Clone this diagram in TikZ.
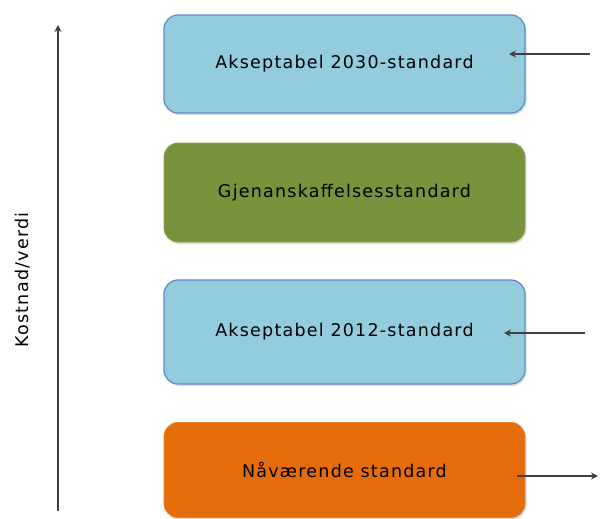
\documentclass[tikz,border=0pt]{standalone}
\usepackage{fontspec}
\setmainfont{DejaVu Sans}[LetterSpace=7]
\usetikzlibrary{shadows,arrows.meta}
\definecolor{lblue}{HTML}{93CDDD}
\definecolor{bblue}{HTML}{5B8BC9}
\definecolor{lgreen}{HTML}{77933C}
\definecolor{orng}{HTML}{E46C0A}
\definecolor{arr}{HTML}{404040}
\tikzset{
  box/.style={rounded corners=14pt, minimum width=361pt, anchor=center,
    inner sep=0pt, font=\fontsize{17.5}{20}\selectfont, text=black,
    drop shadow={opacity=0.25, shadow xshift=1.5pt, shadow yshift=-2pt}},
  conn/.style={draw=arr, line width=1.4pt, -{Stealth[length=7pt,width=7pt]}}
}
\begin{document}
\begin{tikzpicture}[x=1pt,y=-1pt]
\useasboundingbox (0,0) rectangle (603,519);
\node[box, fill=lblue, draw=bblue, line width=1.2pt, minimum height=98pt] (b1) at (344.5,64) {Akseptabel 2030-standard};
\node[box, fill=lgreen, draw=lgreen!85!white, line width=0.8pt, minimum height=99pt] (b2) at (344.5,192.5) {Gjenanskaffelsesstandard};
\node[box, fill=lblue, draw=bblue, line width=1.2pt, minimum height=104pt] (b3) at (344.5,332) {Akseptabel 2012-standard};
\node[box, fill=orng, draw=orng!85!white, line width=0.8pt, minimum height=95pt] (b4) at (344.5,470) {Nåværende standard};
\coordinate (a1s) at (590,54);
\coordinate (a1e) at (509,54);
\coordinate (a2s) at (585,333);
\coordinate (a2e) at (504,333);
\coordinate (a3s) at (517,476);
\coordinate (a3e) at (598,476);
\draw[conn] (a1s) -- (a1e);
\draw[conn] (a2s) -- (a2e);
\draw[conn] (a3s) -- (a3e);
\coordinate (ax0) at (58,511);
\coordinate (ax1) at (58,25);
\draw[conn] (ax0) -- (ax1);
\node[rotate=90, font=\fontsize{17.5}{20}\selectfont, text=black] (lab) at (23,280) {Kostnad/verdi};
\end{tikzpicture}
\end{document}
